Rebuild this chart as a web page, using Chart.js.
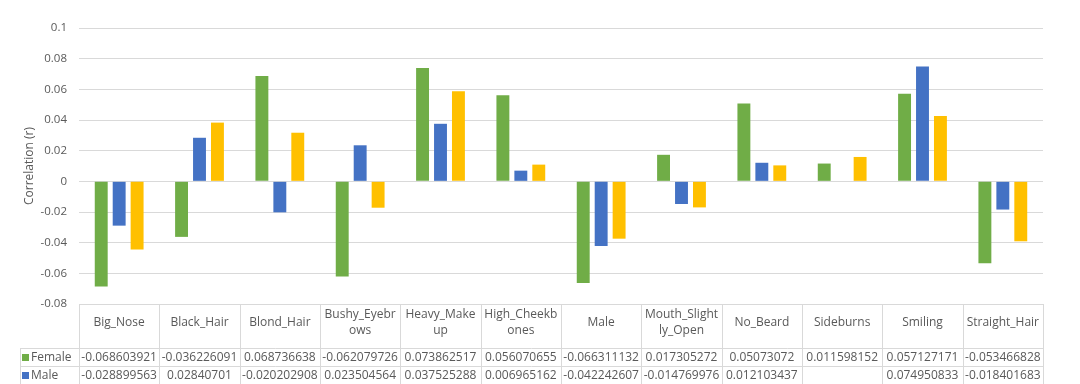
<!DOCTYPE html>
<html>
<head>
<meta charset="utf-8">
<script src="https://cdn.jsdelivr.net/npm/chart.js@4/dist/chart.umd.min.js"></script>
<style>
html,body{margin:0;padding:0;background:#fff;}
#wrap{width:1080px;height:384px;overflow:hidden;}
</style>
</head>
<body>
<div id="wrap"><canvas id="c" width="1080" height="384"></canvas></div>
<script>
const categories = ["Big_Nose","Black_Hair","Blond_Hair","Bushy_Eyebrows","Heavy_Makeup","High_Cheekbones","Male","Mouth_Slightly_Open","No_Beard","Sideburns","Smiling","Straight_Hair"];
const headerLines = [["Big_Nose"],["Black_Hair"],["Blond_Hair"],["Bushy_Eyebr","ows"],["Heavy_Make","up"],["High_Cheekb","ones"],["Male"],["Mouth_Slight","ly_Open"],["No_Beard"],["Sideburns"],["Smiling"],["Straight_Hair"]];
const seriesNames = ["Female","Male","Overall"];
const femaleValues = [-0.068603921,-0.036226091,0.068736638,-0.062079726,0.073862517,0.056070655,-0.066311132,0.017305272,0.05073072,0.011598152,0.057127171,-0.053466828];
const maleValues = [-0.028899563,0.02840701,-0.020202908,0.023504564,0.037525288,0.006965162,-0.042242607,-0.014769976,0.012103437,null,0.074950833,-0.018401683];
const overallValues = [-0.0444,0.0383,0.0317,-0.0172,0.0587,0.0109,-0.0374,-0.0170,0.0104,0.0159,0.0426,-0.0391];
const yTicks = [-0.08,-0.06,-0.04,-0.02,0,0.02,0.04,0.06,0.08,0.1];
const yTitle = "Correlation (r)";

const colors = ["#70AD47","#4472C4","#FFC000"];
const textColor = "#595959";
const gridColor = "#D9D9D9";
const FONT = "'Open Sans', 'Liberation Sans', sans-serif";
const allSeries = [femaleValues, maleValues, overallValues];

const tablePlugin = {
  id: 'dataTable',
  afterDraw(chart) {
    const ctx = chart.ctx;
    const xs = chart.scales.x;
    const area = chart.chartArea;
    const n = categories.length;
    const colW = (area.right - area.left) / n;
    const top = area.bottom;
    const headerH = 44;
    const rowH = 18;
    const legendLeft = 20;
    ctx.save();
    ctx.strokeStyle = gridColor;
    ctx.lineWidth = 1;
    const hl = (x1, x2, y) => { ctx.beginPath(); ctx.moveTo(x1, Math.round(y)+0.5); ctx.lineTo(x2, Math.round(y)+0.5); ctx.stroke(); };
    const vl = (x, y1, y2) => { ctx.beginPath(); ctx.moveTo(Math.round(x)+0.5, y1); ctx.lineTo(Math.round(x)+0.5, y2); ctx.stroke(); };
    hl(area.left, area.right, top);
    const rowsTop = top + headerH;
    hl(legendLeft, area.right, rowsTop);
    for (let r = 1; r <= allSeries.length; r++) hl(legendLeft, area.right, rowsTop + r*rowH);
    for (let i = 0; i <= n; i++) {
      const x = area.left + i*colW;
      vl(x, top, rowsTop + allSeries.length*rowH);
    }
    vl(legendLeft, rowsTop, rowsTop + allSeries.length*rowH);
    ctx.fillStyle = textColor;
    ctx.font = "12px " + FONT;
    ctx.textAlign = 'center';
    ctx.textBaseline = 'middle';
    categories.forEach((c, i) => {
      const cx = xs.getPixelForValue(i);
      const lines = headerLines[i];
      const lh = 16;
      const cy = top + 19;
      lines.forEach((ln, k) => {
        ctx.fillText(ln, cx, cy + (k - (lines.length-1)/2)*lh);
      });
    });
    allSeries.forEach((vals, r) => {
      const cy = rowsTop + r*rowH + rowH/2 + 0.5;
      ctx.fillStyle = colors[r];
      ctx.fillRect(22, cy - 3.5, 7, 7);
      ctx.fillStyle = textColor;
      ctx.textAlign = 'left';
      ctx.fillText(seriesNames[r], 31, cy);
      ctx.textAlign = 'center';
      vals.forEach((v, i) => {
        if (v === null) return;
        ctx.fillText(String(v), xs.getPixelForValue(i), cy);
      });
    });
    ctx.restore();
  }
};

new Chart(document.getElementById('c'), {
  type: 'bar',
  data: {
    labels: categories,
    datasets: seriesNames.map((name, i) => ({
      label: name,
      data: allSeries[i],
      backgroundColor: colors[i],
      borderWidth: 0,
      categoryPercentage: 0.67,
      barPercentage: 0.72
    }))
  },
  options: {
    responsive: false,
    devicePixelRatio: 1,
    animation: false,
    layout: { padding: { left: 0, top: 28, right: 37, bottom: 80 } },
    plugins: { legend: { display: false }, tooltip: { enabled: false }, title: { display: false } },
    scales: {
      x: { display: false },
      y: {
        min: -0.08, max: 0.1,
        afterBuildTicks(scale) { scale.ticks = yTicks.map(v => ({ value: v })); },
        afterFit(scale) { scale.width = 79; },
        grid: { color: gridColor, drawTicks: false, lineWidth: 1 },
        border: { display: false },
        ticks: {
          padding: 12,
          color: textColor,
          font: { family: FONT, size: 11.5 },
          callback: v => String(parseFloat(Number(v).toFixed(2)))
        },
        title: {
          display: true,
          text: yTitle,
          color: textColor,
          font: { family: FONT, size: 12 },
          padding: { top: 22, bottom: 0 }
        }
      }
    }
  },
  plugins: [tablePlugin]
});
</script>
</body>
</html>
